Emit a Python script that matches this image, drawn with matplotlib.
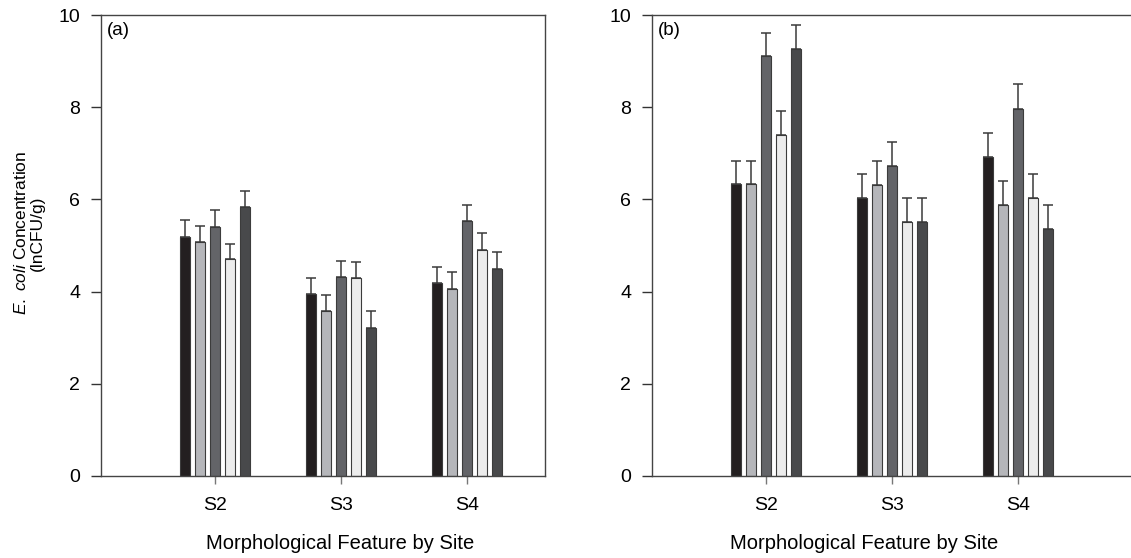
import numpy as np
import matplotlib.pyplot as plt

plt.rcParams['font.family'] = ['Liberation Sans', 'DejaVu Sans']
plt.rcParams['mathtext.fontset'] = 'custom'
plt.rcParams['mathtext.rm'] = 'Liberation Sans'
plt.rcParams['mathtext.it'] = 'Liberation Sans:italic'

sites = ["S2", "S3", "S4"]

# panel (a): mean and upper error for each of the five features per site
mean_a = [[5.19, 3.95, 4.18],
          [5.07, 3.57, 4.05],
          [5.41, 4.32, 5.53],
          [4.71, 4.30, 4.90],
          [5.83, 3.22, 4.50]]
top_a = [[5.56, 4.29, 4.53],
         [5.43, 3.93, 4.42],
         [5.76, 4.66, 5.88],
         [5.04, 4.65, 5.27],
         [6.19, 3.58, 4.85]]

# panel (b)
mean_b = [[6.33, 6.02, 6.93],
          [6.33, 6.32, 5.88],
          [9.10, 6.72, 7.97],
          [7.39, 5.50, 6.03],
          [9.26, 5.50, 5.35]]
top_b = [[6.84, 6.55, 7.45],
         [6.84, 6.83, 6.40],
         [9.61, 7.25, 8.50],
         [7.91, 6.02, 6.55],
         [9.78, 6.02, 5.88]]

colors = ['#231f20', '#b5b6ba', '#636468', '#ececec', '#48494b']


def draw_panel(ax, means, tops, tag, xmax, xlab_x):
    x = np.arange(1, len(sites) + 1)
    step = 0.119
    width = 0.08
    for i in range(len(means)):
        m = np.array(means[i])
        err = np.array(tops[i]) - m
        ax.bar(x + (i - 2) * step, m, width, color=colors[i],
               edgecolor='#3c3c3c', linewidth=0.8,
               yerr=[np.zeros_like(err), err], capsize=3.6,
               error_kw=dict(ecolor='#3a3a3a', elinewidth=1.1, capthick=1.1))
    ax.set_xlim(0.095, xmax)
    ax.set_ylim(0, 10)
    ax.set_xticks(x)
    ax.set_xticklabels(sites)
    ax.set_yticks(np.arange(0, 11, 2))
    ax.tick_params(axis='y', direction='out', length=7, width=1, pad=8,
                   labelsize=14, color='#333333')
    ax.tick_params(axis='x', direction='out', length=6, width=1, pad=9,
                   labelsize=14, color='#777777')
    for s in ax.spines.values():
        s.set_color('#444444')
        s.set_linewidth(1)
    ax.set_xlabel("Morphological Feature by Site", fontsize=14.5)
    ax.xaxis.set_label_coords(xlab_x, -0.125)
    ax.text(0.013, 0.985, tag, transform=ax.transAxes, ha='left', va='top',
            fontsize=13.5)


fig = plt.figure(figsize=(11.31, 5.58), dpi=100)
ax1 = fig.add_axes([101 / 1131, 82 / 558, 444 / 1131, 461 / 558])
ax2 = fig.add_axes([652 / 1131, 82 / 558, 483 / 1131, 461 / 558])

draw_panel(ax1, mean_a, top_a, "(a)", 3.619, 0.538)
draw_panel(ax2, mean_b, top_b, "(b)", 3.93, 0.439)

ax1.set_ylabel(r"$\it{E.\ coli}$ Concentration" + "\n(lnCFU/g)",
               fontsize=12.5, linespacing=1.1)
ax1.yaxis.set_label_coords(-0.126, 0.527)

fig.savefig("out.png", dpi=100)
